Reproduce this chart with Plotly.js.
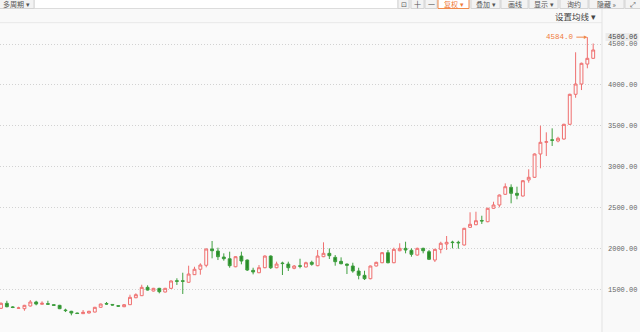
<!DOCTYPE html>
<html>
<head>
<meta charset="utf-8">
<script src="https://cdn.plot.ly/plotly-3.0.1.min.js"></script>
<style>
html,body{margin:0;padding:0;background:#f9f9f9;}
#chart{width:640px;height:332px;}
</style>
</head>
<body>
<div id="chart"></div>
<script>
// ---- data ----
const open = [1268,1329,1285,1268,1263,1296,1345,1317,1325,1312,1304,1247,1231,1210,1202,1210,1222,1280,1327,1315,1300,1287,1312,1397,1422,1524,1479,1512,1467,1512,1605,1605,1586,1679,1745,1794,1993,1968,1895,1874,1776,1907,1858,1732,1703,1764,1907,1764,1822,1809,1757,1788,1773,1830,1789,1899,1940,1891,1842,1809,1785,1724,1671,1630,1785,1825,1948,1825,1972,2001,1977,1919,2001,1960,1858,1989,2054,2078,2075,2042,2258,2290,2342,2327,2491,2531,2662,2747,2674,2641,2837,2870,3155,3298,3329,3314,3338,3518,3885,4011,4255,4325];
const close = [1329,1287,1278,1272,1304,1345,1320,1329,1318,1304,1263,1240,1210,1204,1219,1231,1280,1320,1320,1308,1294,1312,1402,1434,1524,1491,1512,1471,1512,1602,1598,1598,1687,1745,1797,1993,1972,1899,1874,1789,1899,1846,1736,1712,1764,1907,1764,1809,1815,1764,1785,1782,1825,1806,1907,1940,1911,1838,1813,1794,1724,1671,1630,1785,1830,1948,1825,1989,2001,1981,1928,2001,1972,1867,1989,2063,2075,2072,2069,2246,2295,2339,2336,2491,2531,2653,2755,2674,2650,2828,2870,3155,3298,3305,3322,3347,3518,3885,4011,4264,4325,4427];
const high = [1340,1360,1295,1287,1310,1369,1360,1353,1360,1318,1310,1263,1237,1215,1247,1237,1285,1325,1345,1320,1305,1318,1434,1451,1556,1549,1518,1518,1518,1610,1635,1703,1789,1776,1818,2000,2091,2009,1940,1960,1905,1960,1865,1764,1797,1915,1915,1838,1838,1838,1797,1874,1838,1850,1981,2075,2001,1919,1891,1815,1825,1764,1727,1790,1838,1955,1981,2009,2063,2082,2001,2009,2009,1981,1995,2082,2152,2094,2094,2252,2442,2449,2400,2497,2571,2660,2796,2784,2755,2835,2968,3162,3501,3420,3469,3366,3525,3892,4399,4272,4584,4506];
const low = [1260,1280,1270,1265,1238,1290,1304,1312,1312,1298,1258,1222,1182,1198,1198,1205,1218,1275,1312,1300,1285,1282,1308,1392,1418,1485,1474,1451,1462,1505,1553,1443,1580,1675,1679,1769,1879,1858,1850,1764,1770,1806,1724,1683,1698,1758,1748,1758,1675,1724,1745,1757,1768,1789,1782,1893,1871,1789,1806,1687,1703,1622,1614,1622,1780,1820,1818,1820,1965,1940,1899,1912,1940,1858,1834,1940,1981,2001,1997,2036,2250,2284,2299,2320,2485,2503,2655,2552,2601,2635,2804,2862,2980,3130,3253,3298,3330,3510,3843,3937,4203,4320];
const priceTicks = [1500,2000,2500,3000,3500,4000,4500];
const maxLabel = '4584.0';
const lastPrice = '4506.06';
const toolButtons = ['多周期 ▾','⊡','十','一','复权 ▾','叠加 ▾','画线','显示 ▾','询约','隐藏 »','⤢'];
const maLabel = '设置均线 ▾';

// ---- layout helpers (pixel -> paper) ----
const W = 640, H = 332;
const px = x => x / W;
const py = y => 1 - y / H;

const idx = open.map((_, i) => i);
const maxIdx = high.indexOf(Math.max(...high));

const btnPos = [[-2,34],[398,409],[411,424],[425,437],[438,469],[471,500],[501,528],[529,558],[560,588],[589,624],[625,641]];

const shapes = [];
const annotations = [];

// toolbar strip
shapes.push({type:'rect', xref:'paper', yref:'paper', x0:0, x1:1, y0:py(9), y1:py(-2), fillcolor:'#efefef', line:{width:0}, layer:'above'});
shapes.push({type:'rect', xref:'paper', yref:'paper', x0:px(34), x1:px(398), y0:py(8.5), y1:py(-2), fillcolor:'#ffffff', line:{color:'#dcdcdc', width:1}, layer:'above'});
toolButtons.forEach((t, i) => {
  const [a, b] = btnPos[i];
  const active = t.startsWith('复权');
  shapes.push({type:'rect', xref:'paper', yref:'paper', x0:px(a), x1:px(b), y0:py(8.5), y1:py(-2),
    fillcolor: active ? '#ffffff' : '#f3f3f3', line:{color: active ? '#f08a4b' : '#d4d4d4', width:1}, layer:'above'});
  annotations.push({xref:'paper', yref:'paper', x:px((a+b)/2), y:py(4.3), text:t, showarrow:false,
    xanchor:'center', yanchor:'middle', font:{family:'Noto Sans CJK SC', size:7, color: active ? '#f07a3a' : '#555555'}});
});
// header line and divider
shapes.push({type:'line', xref:'paper', yref:'paper', x0:0, x1:px(602), y0:py(22.7), y1:py(22.7), line:{color:'#e8e8e8', width:1}});
shapes.push({type:'line', xref:'paper', yref:'paper', x0:px(602), x1:px(602), y0:py(9), y1:0, line:{color:'#e3e3e3', width:1}});
// last price box on axis
shapes.push({type:'rect', xref:'paper', yref:'paper', x0:px(605.5), x1:px(638.5), y0:py(41), y1:py(33), fillcolor:'#ebebeb', line:{width:0}, layer:'above'});
annotations.push({xref:'paper', yref:'paper', x:px(622), y:py(37), text:lastPrice, showarrow:false,
  xanchor:'center', yanchor:'middle', font:{family:'Liberation Mono', size:7, color:'#444444'}});
// MA setting label
annotations.push({xref:'paper', yref:'paper', x:px(598), y:py(16), text:maLabel, showarrow:false,
  xanchor:'right', yanchor:'middle', font:{family:'Noto Sans CJK SC', size:8.5, color:'#444444'}});
// max annotation
annotations.push({x:maxIdx, y:high[maxIdx], xref:'x', yref:'y', text:maxLabel, showarrow:true,
  ax:-11, ay:0, xanchor:'right', yanchor:'middle', arrowhead:2, arrowsize:0.7, arrowwidth:1, arrowcolor:'#f0884a',
  standoff:0, font:{family:'Liberation Mono', size:7.5, color:'#f07a3a'}});

const trace = {
  type:'candlestick', x: idx, open, high, low, close,
  increasing:{line:{color:'#ef6f6f', width:1}, fillcolor:'#fbfbfb'},
  decreasing:{line:{color:'#3f9f3f', width:1}, fillcolor:'#278a27'},
  whiskerwidth:0, hoverinfo:'skip'
};

const layout = {
  width:W, height:H,
  margin:{l:0, r:0, t:0, b:0},
  paper_bgcolor:'#f9f9f9', plot_bgcolor:'#fafafa',
  showlegend:false, hovermode:false,
  xaxis:{domain:[0, px(602)], range:[-0.17, 102.5], visible:false, rangeslider:{visible:false}, fixedrange:true},
  yaxis:{domain:[0, py(23)], range:[978, 4757], side:'right', tickvals:priceTicks, tickformat:'.2f',
    showgrid:true, gridcolor:'#d2d2d2', griddash:'1px,2px', gridwidth:1, zeroline:false, showline:false,
    ticks:'', ticklabelstandoff:5, tickfont:{family:'Liberation Mono', size:7, color:'#666666'}, fixedrange:true},
  shapes, annotations
};

Plotly.newPlot('chart', [trace], layout, {staticPlot:true, displayModeBar:false});
</script>
</body>
</html>
